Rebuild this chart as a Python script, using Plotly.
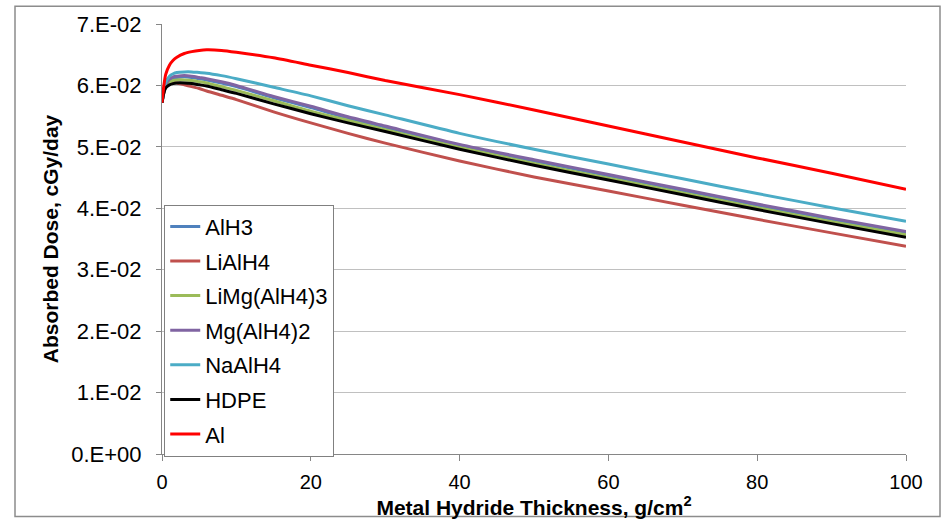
import plotly.graph_objects as go

thickness = [0, 0.25, 0.5, 1, 1.5, 2, 3, 4, 5, 6, 8, 10, 15, 20, 25, 30, 40, 50, 60, 70, 80, 90, 100]

alh3 = [5.72, 5.89, 6.00, 6.08, 6.12, 6.13, 6.14, 6.13, 6.11, 6.09, 6.04, 5.98, 5.80, 5.64, 5.47, 5.32, 5.02, 4.77, 4.53, 4.29, 4.05, 3.82, 3.60]
lialh4 = [5.72, 5.88, 5.97, 6.03, 6.05, 6.04, 6.01, 5.98, 5.95, 5.91, 5.84, 5.77, 5.57, 5.39, 5.22, 5.06, 4.77, 4.51, 4.28, 4.05, 3.82, 3.60, 3.38]
limg = [5.72, 5.89, 5.99, 6.05, 6.08, 6.09, 6.09, 6.08, 6.06, 6.04, 5.98, 5.92, 5.75, 5.58, 5.43, 5.28, 4.99, 4.73, 4.49, 4.25, 4.01, 3.78, 3.57]
mg = [5.72, 5.90, 6.01, 6.10, 6.14, 6.15, 6.16, 6.15, 6.13, 6.11, 6.06, 6.00, 5.82, 5.66, 5.49, 5.34, 5.04, 4.79, 4.55, 4.31, 4.07, 3.84, 3.62]
naalh4 = [5.72, 5.92, 6.05, 6.15, 6.19, 6.21, 6.22, 6.22, 6.21, 6.20, 6.16, 6.11, 5.97, 5.83, 5.67, 5.52, 5.22, 4.96, 4.72, 4.48, 4.24, 4.01, 3.79]
hdpe = [5.72, 5.88, 5.96, 6.01, 6.03, 6.04, 6.04, 6.03, 6.01, 5.99, 5.93, 5.87, 5.70, 5.54, 5.39, 5.25, 4.96, 4.70, 4.46, 4.22, 3.98, 3.75, 3.53]
al = [5.72, 6.00, 6.18, 6.33, 6.41, 6.46, 6.52, 6.55, 6.57, 6.58, 6.57, 6.54, 6.45, 6.33, 6.21, 6.08, 5.85, 5.60, 5.34, 5.08, 4.82, 4.57, 4.31]

names = ["AlH3", "LiAlH4", "LiMg(AlH4)3", "Mg(AlH4)2", "NaAlH4", "HDPE", "Al"]
series = [alh3, lialh4, limg, mg, naalh4, hdpe, al]
colors = ["#4F81BD", "#C0504D", "#9BBB59", "#8064A2", "#4BACC6", "#000000", "#FF0000"]

y_ticks = [0, 0.01, 0.02, 0.03, 0.04, 0.05, 0.06, 0.07]
y_ticktext = ["0.E+00", "1.E-02", "2.E-02", "3.E-02", "4.E-02", "5.E-02", "6.E-02", "7.E-02"]
x_ticks = [0, 20, 40, 60, 80, 100]

fig = go.Figure()
for name, vals, col in zip(names, series, colors):
    fig.add_trace(go.Scatter(
        x=thickness, y=[v / 100 for v in vals], name=name, mode="lines",
        line=dict(color=col, width=3, shape="spline", smoothing=0.6),
        legendgroup=name,
    ))

font_family = "Liberation Sans, Arial, sans-serif"
fig.update_layout(
    width=944, height=524,
    margin=dict(l=162, r=38, t=24, b=66),
    paper_bgcolor="white", plot_bgcolor="white",
    font=dict(family=font_family, color="#000000"),
    showlegend=True,
    legend=dict(
        x=0.003, y=-0.006, xanchor="left", yanchor="bottom",
        bgcolor="white", bordercolor="#808080", borderwidth=1,
        font=dict(size=22, family=font_family),
        tracegroupgap=3, traceorder="grouped",
    ),
    xaxis=dict(
        range=[0, 100], tickvals=x_ticks, showgrid=False,
        showline=True, linecolor="#868686", linewidth=1,
        ticks="outside", ticklen=6, tickcolor="#868686",
        tickfont=dict(size=20), zeroline=False, ticklabelstandoff=4,
        title=dict(text="<b>Metal Hydride Thickness, g/cm<sup>2</sup></b>",
                   font=dict(size=21), standoff=4),
    ),
    yaxis=dict(
        range=[0, 0.07], tickvals=y_ticks, ticktext=y_ticktext,
        showgrid=True, gridcolor="#C0C0C0", gridwidth=1,
        showline=True, linecolor="#868686", linewidth=1,
        ticks="outside", ticklen=5, tickcolor="#868686",
        tickfont=dict(size=22), zeroline=False, ticklabelstandoff=10,
        title=dict(text="<b>Absorbed Dose, cGy/day</b>", font=dict(size=21), standoff=6),
    ),
    shapes=[dict(type="rect", xref="paper", yref="paper",
                 x0=(15 - 162) / 744, x1=(940 - 162) / 744,
                 y0=(458 - 521) / 434, y1=(458 - 6) / 434,
                 line=dict(color="#8C8C8C", width=1.5), fillcolor="rgba(0,0,0,0)",
                 layer="below")],
)

fig.write_html("out.html")
